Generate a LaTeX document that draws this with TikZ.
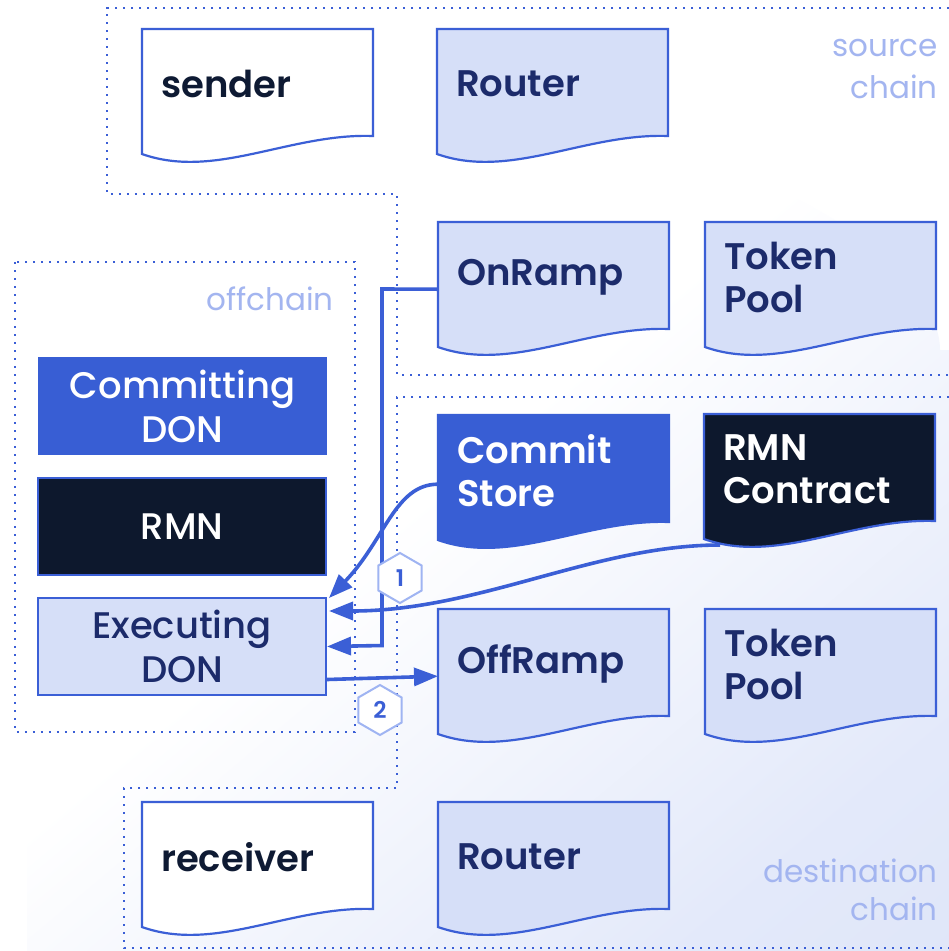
\documentclass[tikz,border=0pt]{standalone}
\usepackage{fontspec}
\setmainfont{Poppins}
\newfontfamily\semib{Poppins SemiBold}
\newfontfamily\medi{Poppins Medium}
\usetikzlibrary{shapes.geometric,arrows.meta,calc}
\definecolor{cblue}{HTML}{385ED4}
\definecolor{cline}{HTML}{3B5FD6}
\definecolor{clight}{HTML}{D6DFF8}
\definecolor{cdark}{HTML}{0D182D}
\definecolor{ctxt}{HTML}{0E1A33}
\definecolor{cnavy}{HTML}{1C2B6B}
\definecolor{clabel}{HTML}{A3B5F0}
\definecolor{chex}{HTML}{9FB4F2}
\definecolor{cbg}{HTML}{DAE2F8}
\pgfdeclareverticalshading{blobshade}{100bp}{color(0bp)=(cbg); color(25bp)=(cbg!75!white); color(55bp)=(white); color(100bp)=(white)}
\newcommand{\docbox}[7]{% name, x1, y1, fill, textcolor, drawcolor, text
  \path[draw=#6, line width=2.2pt, fill=#4] (#2,#3) -- ++(231,0) -- ++(0,107)
    .. controls +(-83,-3) and +(73,26) .. (#2,#3+125) -- cycle;
  \node[docnode, text=#5] (#1) at (#2,#3) {#7};}
\tikzset{
  docnode/.style={anchor=north west, minimum width=231pt, minimum height=110pt,
    inner xsep=19pt, inner ysep=0pt, text width=193pt, align=left,
    font=\semib\fontsize{37}{43}\selectfont},
  donbox/.style={anchor=north west, minimum width=289pt, minimum height=98pt,
    inner sep=0pt, align=center, line width=2pt,
    font=\medi\fontsize{37}{44}\selectfont},
  zone/.style={draw=cline, line width=2.4pt, dash pattern=on 2.4pt off 5.6pt},
  zlabel/.style={text=clabel, font=\fontsize{31}{39}\selectfont, inner sep=0pt},
  flow/.style={draw=cline, line width=3.6pt, -{Triangle[length=24pt,width=18pt]}},
  hexnum/.style={regular polygon, regular polygon sides=6, shape border rotate=30,
    minimum size=50pt, inner sep=0pt, draw=chex, line width=2pt, fill=white,
    text=cline, font=\semib\fontsize{23}{23}\selectfont}
}
\begin{document}
\begin{tikzpicture}[x=1pt,y=-1pt]
\useasboundingbox (0,0) rectangle (949,951);
\fill[white] (0,0) rectangle (949,951);
% background blob
\shade[shading=blobshade, shading angle=40]
  (27,951) -- (27,720) .. controls (27,420) and (380,160) .. (640,160)
  .. controls (780,160) and (940,270) .. (940,350) -- (949,350) -- (949,951) -- cycle;
% zones
\draw[zone] (949,8) -- (107,8) -- (107,194) -- (397,194) -- (397,375) -- (949,375);
\draw[zone] (15,262) rectangle (355,732);
\draw[zone] (949,397) -- (397,397) -- (397,788) -- (124,788) -- (124,948) -- (949,948);
\node[zlabel, anchor=east] (lsrc1) at (938,48) {source};
\node[zlabel, anchor=east] (lsrc2) at (938,87) {chain};
\node[zlabel, anchor=east] (loff) at (334,299) {offchain};
\node[zlabel, anchor=east] (ldst1) at (938,871) {destination};
\node[zlabel, anchor=east] (ldst2) at (938,909) {chain};
% document boxes
\docbox{sender}{142}{29}{white}{ctxt}{cline}{sender}
\docbox{routera}{437}{29}{clight}{cnavy}{cline}{Router}
\docbox{onramp}{438}{222}{clight}{cnavy}{cline}{OnRamp}
\docbox{poola}{705}{222}{clight}{cnavy}{cline}{Token\\Pool}
\docbox{commit}{438}{415}{cblue}{white}{cblue}{Commit\\Store}
\docbox{rmnc}{704}{414}{cdark}{white}{cline}{RMN\\Contract}
\docbox{offramp}{438}{609}{clight}{cnavy}{cline}{OffRamp}
\docbox{poolb}{705}{609}{clight}{cnavy}{cline}{Token\\Pool}
\docbox{receiver}{142}{802}{white}{ctxt}{cline}{receiver}
\docbox{routerb}{438}{802}{clight}{cnavy}{cline}{Router}
% offchain boxes
\node[donbox, fill=cblue, text=white] (cdon) at (37,356) {Committing\\DON};
\node[donbox, fill=cdark, draw=cline, text=white, minimum width=288pt, minimum height=97pt] (rmn) at (37,477) {RMN};
\node[donbox, fill=clight, draw=cline, text=cnavy, minimum width=288pt, minimum height=97pt] (edon) at (37,597) {Executing\\DON};
% connectors
\coordinate (rmnfoot) at (720,545);
\coordinate (bend1) at (382,289);
\coordinate (bend2) at (382,645.5);
\draw[flow] ([yshift=-12pt]onramp.west) -- (bend1) -- (bend2) -- (edon.east);
\draw[flow] ([yshift=-14pt]commit.west) .. controls +(-43,0) and (385,540) .. ([xshift=2pt,yshift=-1pt]edon.north east);
\draw[flow] (rmnfoot) .. controls +(-125,0) and +(150,0) .. ([xshift=2pt,yshift=-14pt]edon.north east);
\draw[flow] ([yshift=-33pt]edon.east) -- ([yshift=-12pt]offramp.west);
% step labels
\node[hexnum] (h1) at (400,578) {1};
\node[hexnum] (h2) at (380,710) {2};
\end{tikzpicture}
\end{document}
